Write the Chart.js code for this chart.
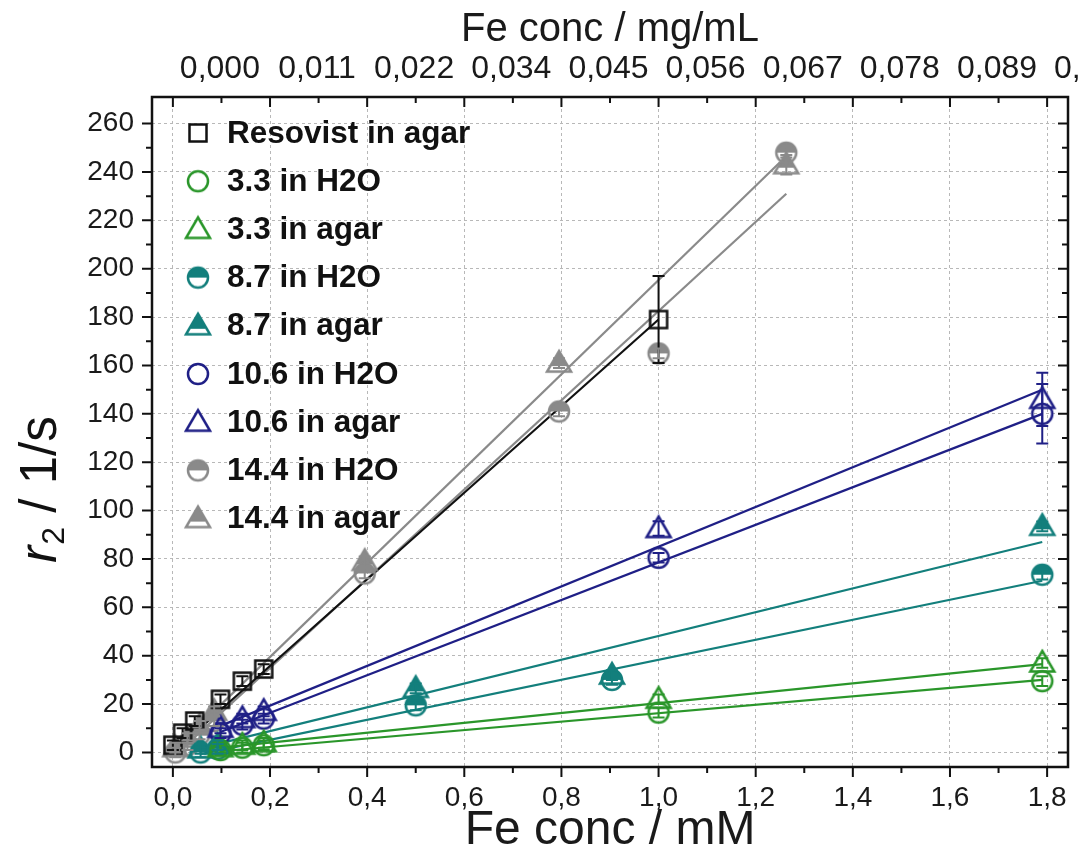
<!DOCTYPE html>
<html lang="en">
<head>
<meta charset="UTF-8" />
<title>r2 relaxivity vs Fe concentration</title>
<script src="https://cdn.jsdelivr.net/npm/chart.js"></script>
<style>
  html, body { margin: 0; padding: 0; background: #fff; }
  canvas { display: block; }
</style>
</head>
<body>
<canvas id="r2Chart" width="1079" height="858"></canvas>
<script>
  // axis ticks
  const xTickValues = [0, 0.2, 0.4, 0.6, 0.8, 1.0, 1.2, 1.4, 1.6, 1.8];
  const xTickLabels = ['0,0', '0,2', '0,4', '0,6', '0,8', '1,0', '1,2', '1,4', '1,6', '1,8'];
  const topTickLabels = ['0,000', '0,011', '0,022', '0,034', '0,045', '0,056', '0,067', '0,078', '0,089', '0,101'];
  const yTickValues = [0, 20, 40, 60, 80, 100, 120, 140, 160, 180, 200, 220, 240, 260];

  const seriesLabels = ['Resovist in agar', '3.3 in H2O', '3.3 in agar', '8.7 in H2O', '8.7 in agar',
                        '10.6 in H2O', '10.6 in agar', '14.4 in H2O', '14.4 in agar'];

  // measured points (Fe conc mM, r2 1/s, error)
  const resovistX = [0.0, 0.02, 0.045, 0.098, 0.143, 0.187, 1.0];
  const resovistY = [3, 8, 13, 22, 29.5, 34.5, 179];
  const resovistErr = [2, 2, 2, 2, 2, 2, 18];

  const s33WaterX = [0.098, 0.143, 0.187, 1.0, 1.79];
  const s33WaterY = [1, 2, 3, 16.5, 29.5];
  const s33WaterErr = [2, 2, 2, 2, 2];
  const s33AgarX = [0.098, 0.143, 0.187, 1.0, 1.79];
  const s33AgarY = [2, 3, 4, 22, 37];
  const s33AgarErr = [2, 2, 2, 2, 2];

  const s87WaterX = [0.057, 0.092, 0.5, 0.904, 1.79];
  const s87WaterY = [0, 1.5, 19.5, 30, 73.5];
  const s87WaterErr = [2, 2, 2, 2, 2];
  const s87AgarX = [0.057, 0.092, 0.5, 0.904, 1.79];
  const s87AgarY = [1.5, 3, 26.5, 32, 93.5];
  const s87AgarErr = [2, 2, 2, 2, 2];

  const s106WaterX = [0.098, 0.143, 0.187, 1.0, 1.79];
  const s106WaterY = [8, 11.5, 14, 80.5, 140];
  const s106WaterErr = [2, 2, 2, 2, 12.3];
  const s106AgarX = [0.098, 0.143, 0.187, 1.0, 1.79];
  const s106AgarY = [10, 14, 17, 92.6, 146];
  const s106AgarErr = [2, 2, 2, 3, 11];

  const s144WaterX = [0.005, 0.03, 0.055, 0.085, 0.395, 0.795, 1.0, 1.263];
  const s144WaterY = [0, 3, 7.5, 13, 74, 141, 165, 248];
  const s144WaterErr = [2, 2, 2, 2, 2, 2, 2, 2];
  const s144AgarX = [0.005, 0.03, 0.055, 0.085, 0.395, 0.795, 1.263];
  const s144AgarY = [2, 6, 11, 17, 79, 161, 243];
  const s144AgarErr = [2, 2, 2, 2, 2, 2, 4];

  // linear fit lines, start/end
  const fitX = [[0.0, 1.0], [0.098, 1.79], [0.098, 1.79], [0.057, 1.79], [0.057, 1.79],
                [0.098, 1.79], [0.098, 1.79], [0.005, 1.263], [0.005, 1.25]];
  const fitY = [[0, 179], [0.5, 30], [2, 36.5], [-0.7, 71], [1.8, 87],
                [8.5, 140], [11, 150], [-1, 231], [1.5, 244]];

  const pointsX = [resovistX, s33WaterX, s33AgarX, s87WaterX, s87AgarX, s106WaterX, s106AgarX, s144WaterX, s144AgarX];
  const pointsY = [resovistY, s33WaterY, s33AgarY, s87WaterY, s87AgarY, s106WaterY, s106AgarY, s144WaterY, s144AgarY];
  const pointsErr = [resovistErr, s33WaterErr, s33AgarErr, s87WaterErr, s87AgarErr, s106WaterErr, s106AgarErr, s144WaterErr, s144AgarErr];

  const colors = ['#111111', '#2a962a', '#2a962a', '#137f7c', '#137f7c', '#1f1f86', '#1f1f86', '#8a8a8a', '#8a8a8a'];
  const shapes = ['square', 'circle', 'triangle', 'halfCircle', 'halfTriangle', 'circle', 'triangle', 'halfCircle', 'halfTriangle'];

  const FONT = "'Liberation Sans', Arial, Helvetica, sans-serif";
  Chart.defaults.font.family = FONT;
  Chart.defaults.color = '#1a1a1a';

  const makeMarker = (shape, color) => {
    const c = document.createElement('canvas');
    c.width = 32; c.height = 32;
    const g = c.getContext('2d');
    const m = 16;
    g.strokeStyle = color; g.fillStyle = color; g.lineWidth = 2.5;
    if (shape === 'square') {
      g.strokeRect(m - 8.5, m - 8.5, 17, 17);
    } else if (shape === 'circle' || shape === 'halfCircle') {
      if (shape === 'halfCircle') {
        g.beginPath(); g.arc(m, m, 10, Math.PI, 0); g.closePath(); g.fill();
      }
      g.beginPath(); g.arc(m, m, 10, 0, Math.PI * 2); g.stroke();
    } else {
      const tri = () => {
        g.beginPath(); g.moveTo(m, m - 12); g.lineTo(m + 12, m + 8.5); g.lineTo(m - 12, m + 8.5); g.closePath();
      };
      if (shape === 'halfTriangle') {
        g.save(); g.beginPath(); g.rect(0, 0, 32, m + 3); g.clip(); tri(); g.fill(); g.restore();
      }
      tri(); g.stroke();
    }
    return c;
  };
  const markers = shapes.map((s, i) => makeMarker(s, colors[i]));

  // marker datasets first so they are drawn on top of the fit lines
  const pointSets = seriesLabels.map((label, i) => ({
    label,
    data: pointsX[i].map((x, j) => ({ x, y: pointsY[i][j] })),
    errors: pointsErr[i],
    pointStyle: markers[i],
    pointRadius: 10,
    borderColor: colors[i],
    showLine: false
  }));
  const fitSets = seriesLabels.map((label, i) => ({
    label: label + ' fit',
    data: fitX[i].map((x, j) => ({ x, y: fitY[i][j] })),
    showLine: true,
    pointRadius: 0,
    borderColor: colors[i],
    borderWidth: 2.2,
    fill: false
  }));

  const frameTicks = {
    id: 'frameTicks',
    afterDraw(chart) {
      const { ctx, chartArea: a, scales: { x, y } } = chart;
      const mid = arr => arr.slice(1).map((v, i) => (v + arr[i]) / 2);
      ctx.save();
      ctx.strokeStyle = '#111';
      ctx.lineWidth = 2;
      ctx.beginPath();
      xTickValues.forEach(v => {
        const px = x.getPixelForValue(v);
        ctx.moveTo(px, a.bottom); ctx.lineTo(px, a.bottom + 10);
        ctx.moveTo(px, a.top); ctx.lineTo(px, a.top + 10);
      });
      mid(xTickValues).forEach(v => {
        const px = x.getPixelForValue(v);
        ctx.moveTo(px, a.bottom); ctx.lineTo(px, a.bottom + 6);
        ctx.moveTo(px, a.top); ctx.lineTo(px, a.top + 6);
      });
      yTickValues.forEach(v => {
        const py = y.getPixelForValue(v);
        ctx.moveTo(a.left - 10, py); ctx.lineTo(a.left, py);
        ctx.moveTo(a.right - 10, py); ctx.lineTo(a.right, py);
      });
      mid(yTickValues).forEach(v => {
        const py = y.getPixelForValue(v);
        ctx.moveTo(a.left - 6, py); ctx.lineTo(a.left, py);
        ctx.moveTo(a.right - 6, py); ctx.lineTo(a.right, py);
      });
      ctx.stroke();
      ctx.lineWidth = 2.5;
      ctx.strokeRect(a.left, a.top, a.right - a.left, a.bottom - a.top);
      ctx.restore();
    }
  };

  const errorBars = {
    id: 'errorBars',
    afterDatasetsDraw(chart) {
      const { ctx, scales: { x, y } } = chart;
      ctx.save();
      ctx.lineWidth = 2;
      chart.data.datasets.forEach(ds => {
        if (!ds.errors) return;
        ctx.strokeStyle = ds.borderColor;
        ctx.beginPath();
        ds.data.forEach((p, j) => {
          const px = x.getPixelForValue(p.x);
          const top = y.getPixelForValue(p.y + ds.errors[j]);
          const bot = y.getPixelForValue(p.y - ds.errors[j]);
          ctx.moveTo(px, top); ctx.lineTo(px, bot);
          ctx.moveTo(px - 6, top); ctx.lineTo(px + 6, top);
          ctx.moveTo(px - 6, bot); ctx.lineTo(px + 6, bot);
        });
        ctx.stroke();
      });
      ctx.restore();
    }
  };

  const legendBox = {
    id: 'legendBox',
    afterDraw(chart) {
      const { ctx } = chart;
      ctx.save();
      ctx.font = 'bold 31.5px ' + FONT;
      ctx.fillStyle = '#111';
      ctx.textBaseline = 'middle';
      seriesLabels.forEach((label, i) => {
        const cy = 133 + i * 48.2;
        ctx.drawImage(markers[i], 198 - 16, cy - 16);
        ctx.fillText(label, 227, cy + 1);
      });
      ctx.restore();
    }
  };

  const yTitle = {
    id: 'yTitle',
    afterDraw(chart) {
      const { ctx } = chart;
      ctx.save();
      ctx.translate(42, 490);
      ctx.rotate(-Math.PI / 2);
      ctx.fillStyle = '#111';
      ctx.textBaseline = 'middle';
      const big = '51px ' + FONT;
      const r = 'italic 51px ' + FONT;
      const sub = '32px ' + FONT;
      ctx.font = r; const wr = ctx.measureText('r').width;
      ctx.font = sub; const w2 = ctx.measureText('2').width;
      ctx.font = big; const wt = ctx.measureText(' / 1/s').width;
      let x0 = -(wr + w2 + wt) / 2;
      ctx.font = r; ctx.fillText('r', x0, 0); x0 += wr + 1;
      ctx.font = sub; ctx.fillText('2', x0, 13); x0 += w2;
      ctx.font = big; ctx.fillText(' / 1/s', x0, 0);
      ctx.restore();
    }
  };

  const setTicks = values => scale => { scale.ticks = values.map(v => ({ value: v })); };

  new Chart(document.getElementById('r2Chart'), {
    type: 'scatter',
    data: { datasets: [...pointSets, ...fitSets] },
    options: {
      responsive: false,
      animation: false,
      events: [],
      layout: { padding: { left: 0, right: 4, top: 0, bottom: 0 } },
      plugins: { legend: { display: false }, tooltip: { enabled: false } },
      scales: {
        x: {
          type: 'linear', position: 'bottom', min: -0.043, max: 1.843,
          afterBuildTicks: setTicks(xTickValues),
          afterFit: s => { s.height = 91; s.paddingLeft = 0; s.paddingRight = 0; },
          ticks: { callback: (v, i) => xTickLabels[i], font: { size: 28 }, padding: 14, maxRotation: 0, autoSkip: false },
          grid: { color: '#b8b8b8', drawTicks: false },
          border: { display: false, dash: [3, 3] },
          title: { display: true, text: 'Fe conc / mM', font: { size: 48 }, padding: { top: 0, bottom: -2 } }
        },
        x2: {
          type: 'linear', position: 'top', min: -0.043, max: 1.843,
          afterBuildTicks: setTicks(xTickValues),
          afterFit: s => { s.height = 97; s.paddingLeft = 0; s.paddingRight = 0; },
          ticks: { callback: (v, i) => topTickLabels[i], font: { size: 32 }, padding: 9, labelOffset: 47, maxRotation: 0, autoSkip: false },
          grid: { display: false, drawTicks: false },
          border: { display: false },
          title: { display: true, text: 'Fe conc / mg/mL', font: { size: 40 }, padding: { top: 6, bottom: 0 } }
        },
        y: {
          type: 'linear', position: 'left', min: -6, max: 271,
          afterBuildTicks: setTicks(yTickValues),
          afterFit: s => { s.width = 152; s.paddingTop = 0; s.paddingBottom = 0; },
          ticks: { font: { size: 28 }, padding: 18 },
          grid: { color: '#b8b8b8', drawTicks: false },
          border: { display: false, dash: [3, 3] }
        }
      }
    },
    plugins: [errorBars, frameTicks, legendBox, yTitle]
  });
</script>
</body>
</html>
